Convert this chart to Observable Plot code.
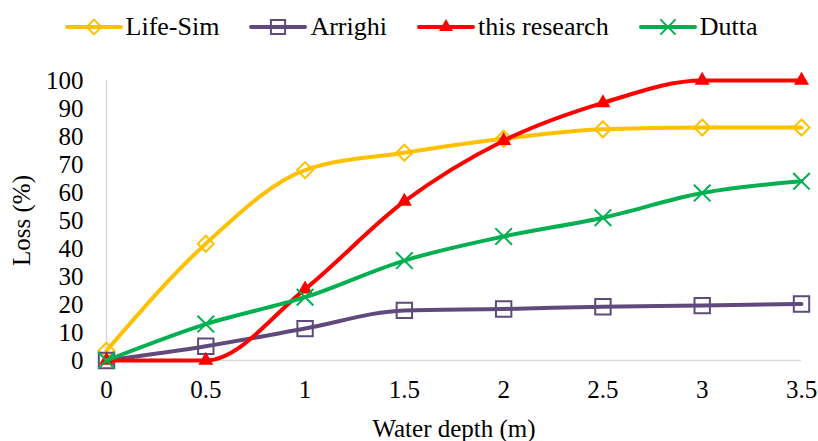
<!DOCTYPE html>
<html>
<head>
<meta charset="utf-8">
<script src="https://cdn.jsdelivr.net/npm/d3@7"></script>
<script src="https://cdn.jsdelivr.net/npm/@observablehq/plot@0.6"></script>
<style>
  html, body { margin: 0; padding: 0; background: #fff; }
  #chart { width: 818px; font-family: "Liberation Serif", "Times New Roman", serif; }
  .legend { display: flex; justify-content: center; align-items: center; height: 54px; gap: 32px; font-size: 26px; color: #000; padding-left: 6px; box-sizing: border-box; }
  .legend .item { display: flex; align-items: center; gap: 5px; }
  .legend svg { display: block; overflow: visible; }
</style>
</head>
<body>
<div id="chart"></div>
<script>
// Water depth (m) on the x axis
const depth = [0, 0.5, 1, 1.5, 2, 2.5, 3, 3.5];

// Loss (%) for each model
const lifeSim      = [3.5, 41.7, 68, 74.2, 79.2, 82.6, 83.2, 83.2];
const arrighi      = [0, 5.1, 11.4, 17.9, 18.4, 19.2, 19.6, 20.2];
const thisResearch = [0, 0, 25.5, 56.8, 78.5, 92, 100, 100];
const dutta        = [0, 13, 22.6, 35.7, 44.3, 51, 59.8, 64];

const seriesNames = ["Life-Sim", "Arrighi", "this research", "Dutta"];
const seriesValues = [lifeSim, arrighi, thisResearch, dutta];

const xTicks = [0, 0.5, 1, 1.5, 2, 2.5, 3, 3.5];
const yTicks = [0, 10, 20, 30, 40, 50, 60, 70, 80, 90, 100];

// Appearance of each series: colour and marker
const styles = {
  "Life-Sim":      {color: "#FFC000", symbol: "diamond2", r: 7.2, fill: "none",    sw: 2},
  "Arrighi":       {color: "#604A7B", symbol: "square2",  r: 9.8, fill: "none",    sw: 2},
  "this research": {color: "#FF0000", symbol: "triangle", r: 5.6, fill: "#FF0000", sw: 0},
  "Dutta":         {color: "#00B050", symbol: "times",    r: 7.6, fill: "none",    sw: 2}
};

const rows = seriesNames.flatMap((name, k) =>
  depth.map((d, i) => ({series: name, depth: d, loss: seriesValues[k][i]}))
);

const chart = document.getElementById("chart");

// Legend: line swatch with the series marker, then the name
const legend = document.createElement("div");
legend.className = "legend";
for (const name of seriesNames) {
  const s = styles[name];
  const item = document.createElement("div");
  item.className = "item";
  const sw = d3.create("svg").attr("width", 54).attr("height", 20);
  sw.append("line").attr("x1", 0).attr("x2", 54).attr("y1", 10).attr("y2", 10)
    .attr("stroke", s.color).attr("stroke-width", 4).attr("stroke-linecap", "round");
  const symbolType = {diamond2: d3.symbolDiamond2, square2: d3.symbolSquare2, triangle: d3.symbolTriangle, times: d3.symbolTimes}[s.symbol];
  sw.append("path")
    .attr("transform", "translate(27,10)")
    .attr("d", d3.symbol(symbolType, Math.PI * s.r * s.r * 0.85)())
    .attr("fill", s.fill)
    .attr("stroke", s.sw ? s.color : "none")
    .attr("stroke-width", s.sw);
  item.appendChild(sw.node());
  const label = document.createElement("span");
  label.textContent = name;
  item.appendChild(label);
  legend.appendChild(item);
}
chart.appendChild(legend);

const seriesMarks = seriesNames.flatMap(name => {
  const s = styles[name];
  const data = rows.filter(d => d.series === name);
  return [
    Plot.line(data, {x: "depth", y: "loss", stroke: s.color, strokeWidth: 4, curve: "monotone-x"}),
    Plot.dot(data, {x: "depth", y: "loss", symbol: s.symbol, r: s.r, fill: s.fill,
      stroke: s.sw ? s.color : "none", strokeWidth: s.sw})
  ];
});

const plot = Plot.plot({
  width: 818,
  height: 387,
  marginTop: 26,
  marginBottom: 81,
  marginLeft: 106,
  marginRight: 17,
  style: {fontFamily: "Liberation Serif, Times New Roman, serif", fontSize: "25px", color: "#000", background: "#fff"},
  x: {domain: [0, 3.5], ticks: xTicks, tickFormat: d => String(d)},
  y: {domain: [0, 100], ticks: yTicks},
  marks: [
    Plot.ruleX([0], {stroke: "#D9D9D9", strokeWidth: 1.5}),
    Plot.ruleY([0], {stroke: "#D9D9D9", strokeWidth: 1.5}),
    Plot.axisX({ticks: xTicks, tickSize: 0, tickPadding: 20, tickFormat: d => String(d),
      label: "Water depth (m)", labelAnchor: "center", labelArrow: "none", labelOffset: 76, fontSize: 25}),
    Plot.axisY({ticks: yTicks, tickSize: 0, tickPadding: 23,
      label: "Loss (%)", labelAnchor: "center", labelArrow: "none", labelOffset: 94, fontSize: 25}),
    ...seriesMarks
  ]
});
chart.appendChild(plot);
</script>
</body>
</html>
